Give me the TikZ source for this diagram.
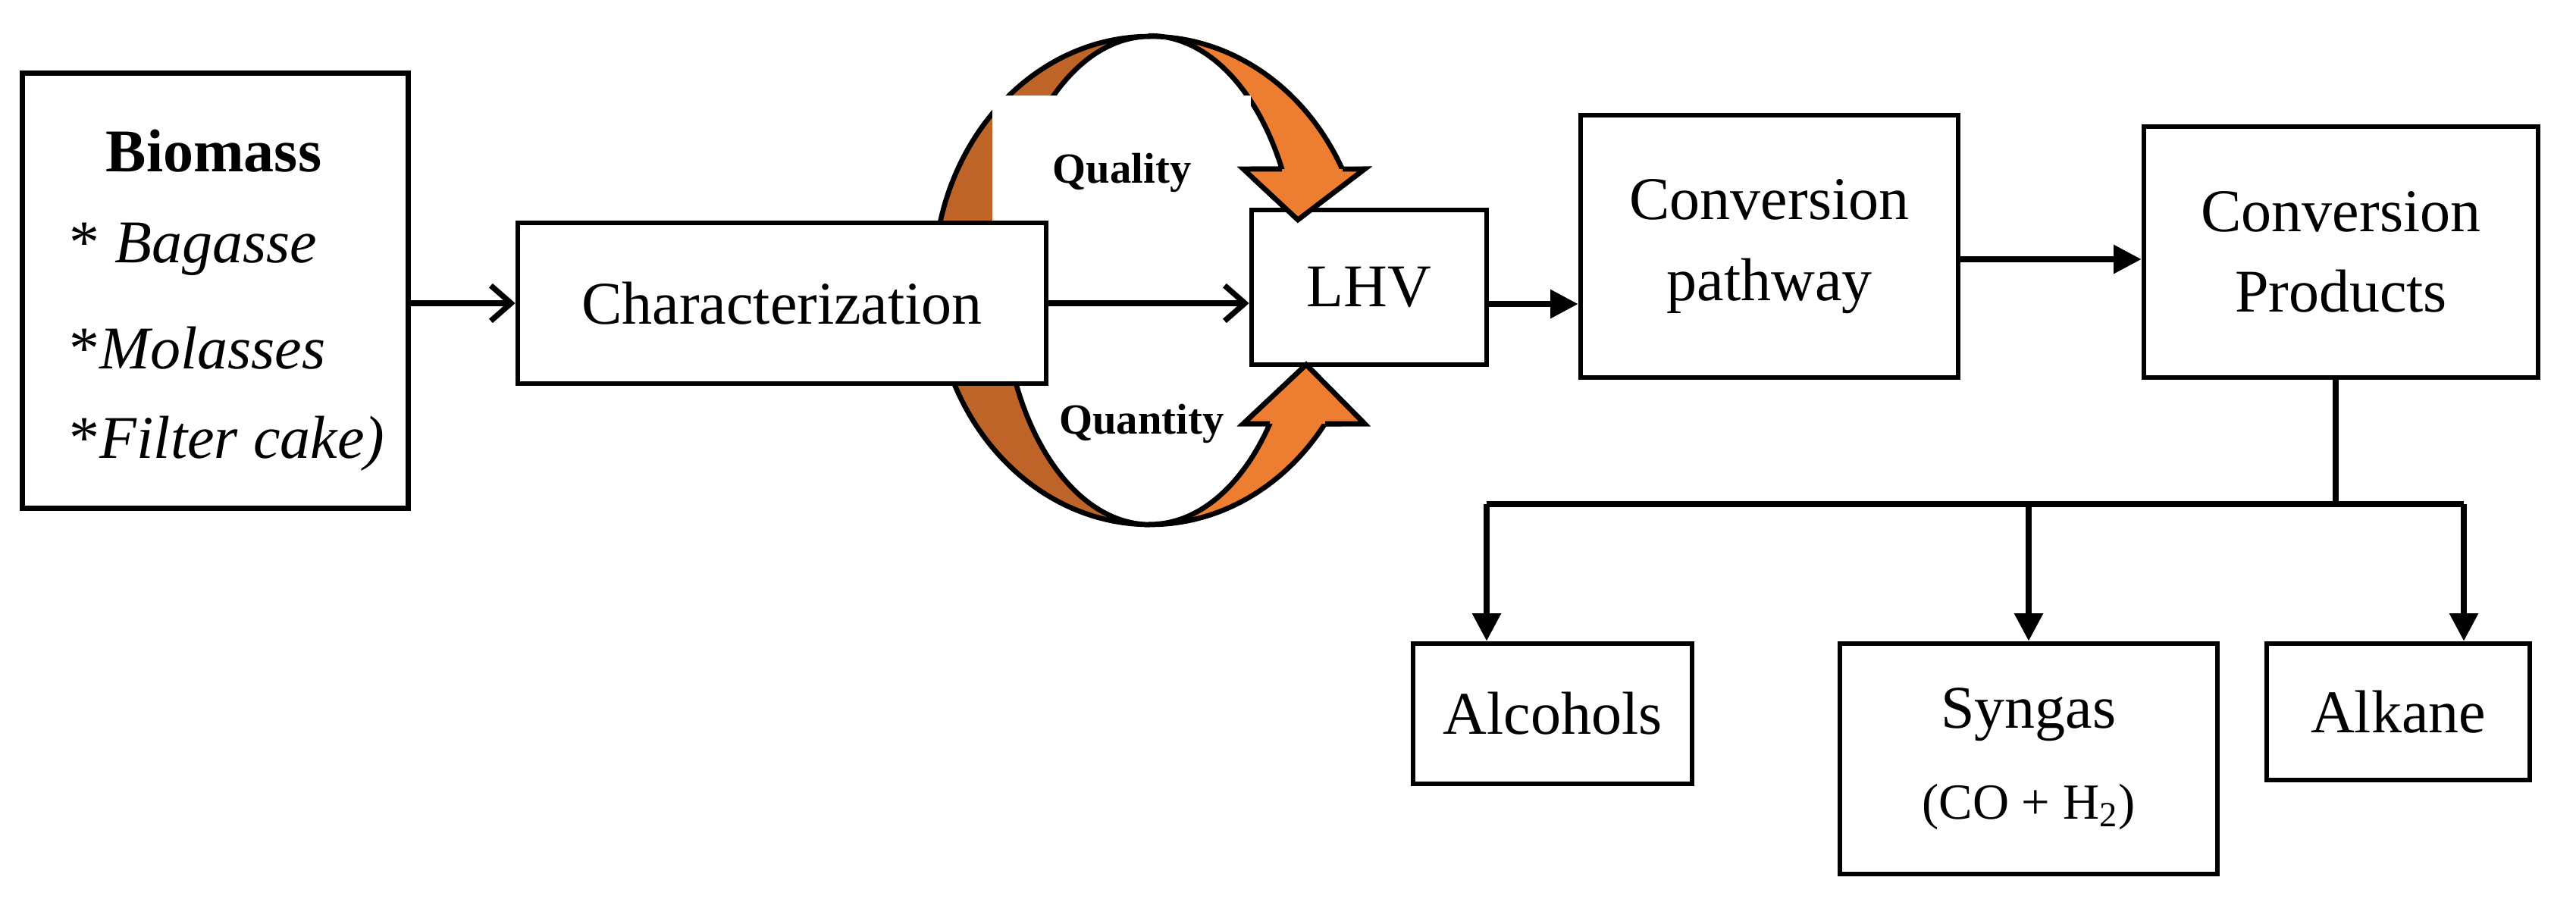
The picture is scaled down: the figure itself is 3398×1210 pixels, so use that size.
\documentclass[tikz,border=0pt]{standalone}
\usepackage{fontspec}
\setmainfont{Liberation Serif}
\usetikzlibrary{arrows.meta}
\definecolor{dorange}{HTML}{BE6428}
\definecolor{lorange}{HTML}{ED7D31}
\begin{document}
\begin{tikzpicture}[x=0.3pt,y=-0.3pt,
  box/.style={draw,line width=2pt,fill=white,inner sep=0pt,align=center,font=\fontsize{24}{32}\selectfont},
  ln/.style={line width=2.2pt},
  fa/.style={ln,-{Triangle[length=11pt,width=11pt]}},
  oa/.style={ln,-{Straight Barb[length=8pt,width=14pt,line width=2.2pt]}},
  blob/.style={draw=black,line width=2pt,line join=miter}]
\useasboundingbox (0,0) rectangle (3398,1210);
% loops
\filldraw[fill=dorange,blob] (1517,48) arc[start angle=-90,end angle=-270,x radius=285,y radius=322]
  arc[start angle=90,end angle=270,x radius=195,y radius=322] -- cycle;
\filldraw[fill=lorange,blob] (1517,48) arc[start angle=-90,end angle=-27,x radius=285,y radius=322]
  -- (1800,223) -- (1712,290) -- (1640,223) -- (1691,223)
  arc[start angle=-27,end angle=-90,x radius=195,y radius=322] -- cycle;
\filldraw[fill=lorange,blob] (1517,692) arc[start angle=90,end angle=36,x radius=285,y radius=322]
  -- (1800,559) -- (1723,481) -- (1640,559) -- (1675,559)
  arc[start angle=36,end angle=90,x radius=195,y radius=322] -- cycle;
\fill[white] (1309,126) rectangle (1650,300);
\node[font=\fontsize{17}{20}\selectfont\bfseries] (ql) at (1480,228) {Quality};
\node[font=\fontsize{17}{20}\selectfont\bfseries] (qn) at (1506,559) {Quantity};
% boxes
\node[box,minimum width=152.7pt,minimum height=172.2pt,anchor=north west] (bio) at (26,93) {};
\node[font=\fontsize{24}{30}\selectfont\bfseries] (bt) at (282,199) {Biomass};
\node[anchor=west,font=\fontsize{24}{30}\selectfont\itshape] (b1) at (80,329) {\upshape* \itshape Bagasse};
\node[anchor=west,font=\fontsize{24}{30}\selectfont\itshape] (b2) at (80,459) {\upshape*\itshape Molasses};
\node[anchor=west,font=\fontsize{24}{30}\selectfont\itshape] (b3) at (80,585) {\upshape*\itshape Filter cake)};
\node[box,minimum width=209.1pt,minimum height=63.6pt] (char) at (1031.5,400) {Characterization};
\node[box,minimum width=93pt,minimum height=61.2pt] (lhv) at (1806,379) {LHV};
\node[box,minimum width=149.4pt,minimum height=103.8pt] (path) at (2334,325) {Conversion\\pathway};
\node[box,minimum width=156pt,minimum height=99.3pt] (prod) at (3088,332.5) {Conversion\\Products};
\node[box,minimum width=110.4pt,minimum height=55.5pt] (alc) at (2048,941.5) {Alcohols};
\node[box,minimum width=149.4pt,minimum height=91.2pt] (syn) at (2676,1001) {Syngas\\[4pt]{\fontsize{20}{24}\selectfont(CO + H\textsubscript{2})}};
\node[box,minimum width=104.1pt,minimum height=54pt] (alk) at (3163.5,939) {Alkane};
% arrow heads over LHV box
\filldraw[fill=lorange,blob] (1691,223) -- (1640,223) -- (1712,290) -- (1800,223) -- (1771,223);
\filldraw[fill=lorange,blob] (1675,559) -- (1640,559) -- (1723,481) -- (1800,559) -- (1748,559);
\fill[lorange] (1694,226) rectangle (1768,235);
\fill[lorange] (1678,549) rectangle (1745,557);
% connectors
\draw[oa] (bio.east |- char.west) -- (char.west);
\draw[oa] (char.east) -- (lhv.west |- char.east);
\coordinate (l1) at (1961,401);
\draw[fa] (l1) -- (path.west |- l1);
\coordinate (p1) at (2583,342);
\draw[fa] (p1) -- (prod.west |- p1);
\coordinate (j) at (3081,665);
\draw[ln] (prod.south -| j) -- (j);
\coordinate (jl) at (1961,665);
\coordinate (jr) at (3250,665);
\draw[ln] (jl) -- (jr);
\draw[fa] (jl) -- (jl |- alc.north);
\draw[fa] (syn.north |- jl) -- (syn.north);
\draw[fa] (jr) -- (jr |- alk.north);
\end{tikzpicture}
\end{document}
